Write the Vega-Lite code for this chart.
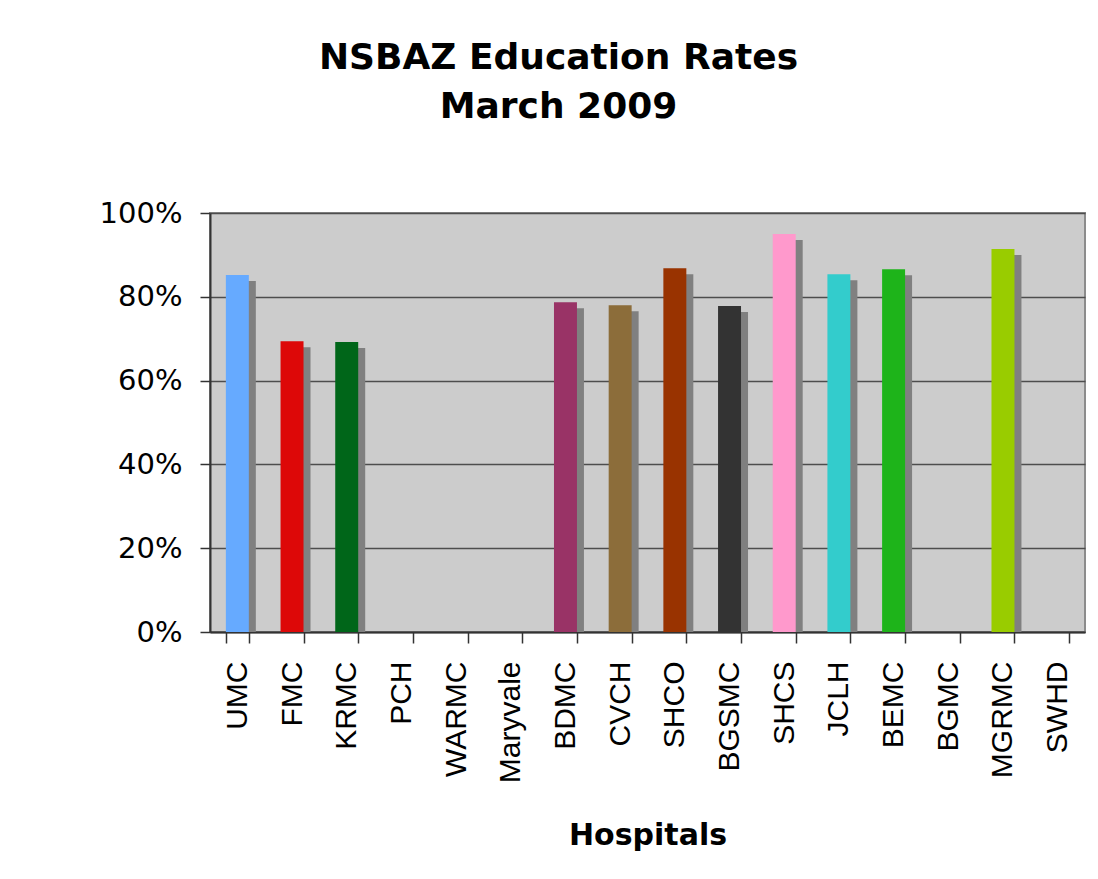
{
  "$schema": "https://vega.github.io/schema/vega-lite/v6.json",
  "autosize": {"type": "none"},
  "padding": {"left": 210, "top": 213, "right": 13, "bottom": 247},
  "width": 875,
  "height": 419,
  "background": "white",
  "title": {
    "text": ["NSBAZ Education Rates", "March 2009"],
    "font": "DejaVu Sans",
    "fontSize": 36,
    "fontWeight": "bold",
    "color": "black",
    "anchor": "middle",
    "frame": "group",
    "dx": -89,
    "lineHeight": 49,
    "offset": 73
  },
  "data": {
    "values": [
      {"hospital": "UMC", "rate": 0.852},
      {"hospital": "FMC", "rate": 0.694},
      {"hospital": "KRMC", "rate": 0.692},
      {"hospital": "BDMC", "rate": 0.787},
      {"hospital": "CVCH", "rate": 0.780},
      {"hospital": "SHCO", "rate": 0.868},
      {"hospital": "BGSMC", "rate": 0.778},
      {"hospital": "SHCS", "rate": 0.950},
      {"hospital": "JCLH", "rate": 0.854},
      {"hospital": "BEMC", "rate": 0.866},
      {"hospital": "MGRMC", "rate": 0.914}
    ]
  },
  "encoding": {
    "x": {
      "field": "hospital",
      "type": "nominal",
      "sort": null,
      "scale": {
        "domain": ["UMC", "FMC", "KRMC", "PCH", "WARMC", "Maryvale", "BDMC", "CVCH", "SHCO", "BGSMC", "SHCS", "JCLH", "BEMC", "BGMC", "MGRMC", "SWHD"],
        "paddingInner": 0.58,
        "paddingOuter": 0.29
      },
      "axis": {
        "title": "Hospitals",
        "titleFont": "DejaVu Sans",
        "titleFontSize": 30,
        "titleFontWeight": "bold",
        "titleColor": "black",
        "titleBaseline": "alphabetic",
        "titleY": 212,
        "labelAngle": -90,
        "labelAlign": "right",
        "labelBaseline": "middle",
        "labelFont": "Liberation Sans",
        "labelFontSize": 30,
        "labelColor": "black",
        "labelPadding": 18,
        "tickBand": "extent",
        "tickSize": 11,
        "tickColor": "#333333",
        "tickWidth": 1.5,
        "domainColor": "#333333",
        "domainWidth": 2,
        "grid": false
      }
    },
    "y": {
      "field": "rate",
      "type": "quantitative",
      "scale": {"domain": [0, 1], "nice": false},
      "axis": {
        "title": null,
        "values": [0, 0.2, 0.4, 0.6, 0.8, 1.0],
        "format": ".0%",
        "labelFont": "DejaVu Sans",
        "labelFontSize": 29,
        "labelColor": "black",
        "labelPadding": 18,
        "tickSize": 10,
        "tickColor": "#333333",
        "tickWidth": 1.5,
        "domainColor": "#333333",
        "domainWidth": 2,
        "grid": true,
        "gridColor": "#4d4d4d",
        "gridWidth": 1.6
      }
    }
  },
  "layer": [
    {
      "mark": {"type": "bar", "color": "#808080", "xOffset": 7, "yOffset": 6, "clip": true}
    },
    {
      "mark": {"type": "bar"},
      "encoding": {
        "color": {
          "field": "hospital",
          "type": "nominal",
          "legend": null,
          "scale": {
            "domain": ["UMC", "FMC", "KRMC", "BDMC", "CVCH", "SHCO", "BGSMC", "SHCS", "JCLH", "BEMC", "MGRMC"],
            "range": ["#66AAFF", "#DD0808", "#006619", "#993366", "#8C6D3A", "#993300", "#333333", "#FF99CC", "#33CCCC", "#1EB41A", "#99CC00"]
          }
        }
      }
    }
  ],
  "config": {
    "view": {"fill": "#CCCCCC", "stroke": "#8c8c8c", "strokeWidth": 2}
  }
}
